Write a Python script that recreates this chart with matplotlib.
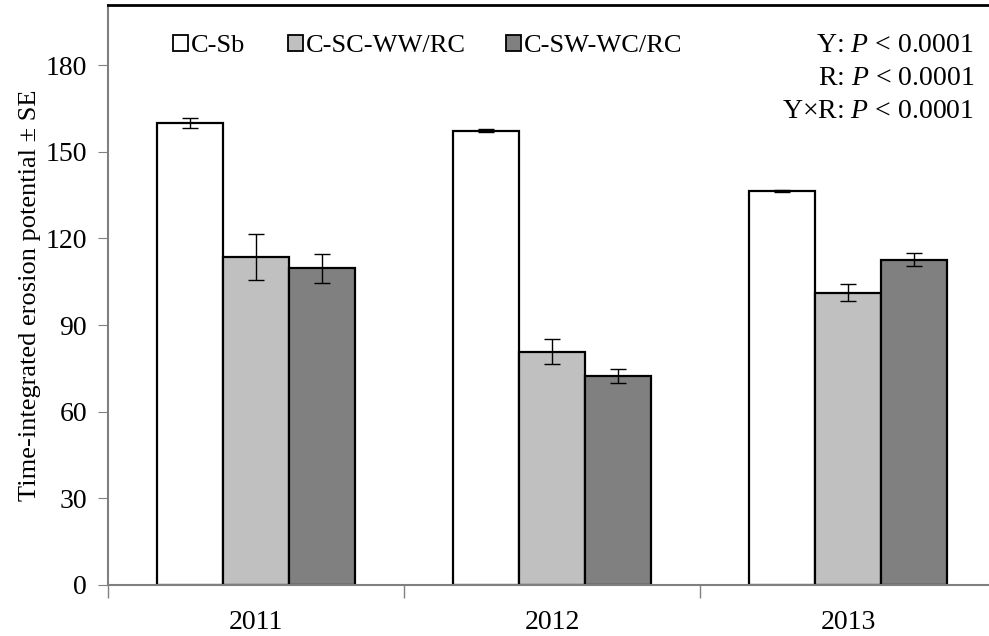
import matplotlib
matplotlib.use("Agg")
import matplotlib.pyplot as plt
from matplotlib.patches import Patch
import numpy as np

plt.rcParams['font.family'] = ['Liberation Serif', 'DejaVu Serif']
plt.rcParams['mathtext.fontset'] = 'custom'
plt.rcParams['mathtext.rm'] = 'Liberation Serif'
plt.rcParams['mathtext.it'] = 'Liberation Serif:italic'

# data
years = ['2011', '2012', '2013']
series = ['C-Sb', 'C-SC-WW/RC', 'C-SW-WC/RC']
c_sb = [160.0, 157.3, 136.4]
c_sb_se = [1.8, 0.5, 0.5]
c_sc = [113.5, 80.8, 101.2]
c_sc_se = [8.0, 4.4, 3.0]
c_sw = [109.6, 72.3, 112.6]
c_sw_se = [5.0, 2.5, 2.2]
colors = ['white', '#c0c0c0', '#808080']

fig = plt.figure(figsize=(9.89, 6.36), dpi=100)
ax = fig.add_axes([108/989, 51/636, 888/989, 580/636])

x = np.arange(len(years))
w = 0.223
vals = [c_sb, c_sc, c_sw]
errs = [c_sb_se, c_sc_se, c_sw_se]
for i in range(3):
    ax.bar(x + (i - 1) * w, vals[i], w, color=colors[i], edgecolor='black',
           linewidth=1.6, zorder=2)
    ax.errorbar(x + (i - 1) * w, vals[i], yerr=errs[i], fmt='none',
                ecolor='black', elinewidth=1, capsize=6, capthick=1, zorder=3)

ax.set_xlim(-0.5, 2.5)
ax.set_ylim(0, 200.8)
ax.set_yticks(range(0, 181, 30))
ax.set_xticks(x)
ax.set_xticklabels(years)
ax.set_xticks([-0.5, 0.5, 1.5, 2.5], minor=True)
ax.tick_params(axis='x', which='major', length=0, labelsize=20, pad=18)
ax.tick_params(axis='x', which='minor', length=9, color='#808080', width=1)
ax.tick_params(axis='y', length=7, color='#808080', labelsize=20, pad=8)

for s in ['left', 'bottom']:
    ax.spines[s].set_color('#808080')
    ax.spines[s].set_linewidth(1.5)
ax.spines['top'].set_linewidth(2)
ax.spines['right'].set_visible(False)

ax.set_ylabel('Time-integrated erosion potential ± SE', fontsize=19, labelpad=3)

# legend entries placed one by one
leg_x = [173, 288, 506]
for i in range(3):
    h = Patch(facecolor=colors[i], edgecolor='black', linewidth=1.3)
    fig.legend(handles=[h], labels=[series[i]], loc='center left',
               bbox_to_anchor=(leg_x[i] / 989, 1 - 46 / 636), frameon=False,
               fontsize=19, handlelength=0.57, handleheight=0.57,
               handletextpad=0.1, borderpad=0, borderaxespad=0)

stats = ['Y: $\\it{P}$ < 0.0001', 'R: $\\it{P}$ < 0.0001', 'Y×R: $\\it{P}$ < 0.0001']
for k, t in enumerate(stats):
    fig.text(974/989, 1 - (45 + 33.5 * k) / 636, t, ha='right', va='center', fontsize=20)

fig.savefig('out.png', dpi=100)
